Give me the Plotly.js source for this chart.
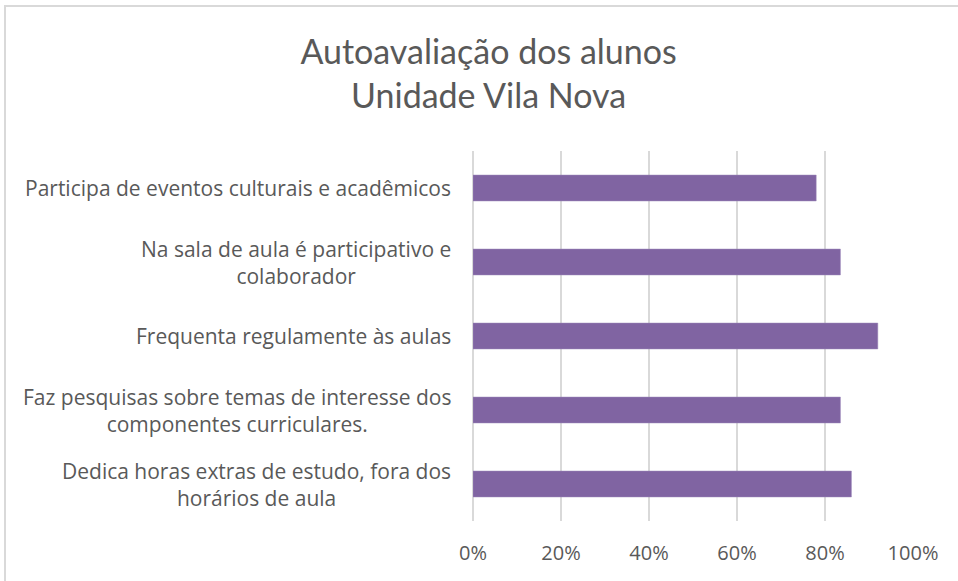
<!DOCTYPE html>
<html>
<head>
<meta charset="utf-8">
<script src="https://cdn.plot.ly/plotly-3.0.1.min.js"></script>
<style>
  html, body { margin: 0; padding: 0; background: #fff; }
  #wrap { position: relative; width: 958px; height: 581px; overflow: hidden; }
  #frame { position: absolute; left: 4px; top: 5px; width: 1000px; height: 700px;
           border-left: 2px solid #d9d9d9; border-top: 2px solid #d9d9d9; pointer-events: none; }
  #chart { position: absolute; left: 0; top: 0; width: 958px; height: 581px; }
</style>
</head>
<body>
<div id="wrap">
  <div id="chart"></div>
  <div id="frame"></div>
</div>
<script>
// Categories, top to bottom as shown in the chart
const categories = [
  "Participa de eventos culturais e acadêmicos",
  "Na sala de aula é participativo e<br>colaborador",
  "Frequenta regulamente às aulas",
  "Faz pesquisas sobre temas de interesse dos<br>componentes curriculares.",
  "Dedica horas extras de estudo, fora dos<br>horários de aula"
];
const values = [0.78, 0.835, 0.92, 0.835, 0.86];
const xTickVals = [0, 0.2, 0.4, 0.6, 0.8, 1.0];
const xTickText = ["0%", "20%", "40%", "60%", "80%", "100%"];
const titleText = "Autoavaliação dos alunos<br>Unidade Vila Nova";

const FONT = "'Open Sans', 'Liberation Sans', sans-serif";
const TFONT = "Lato, 'Open Sans', sans-serif";
const TXT = "#595959";

const trace = {
  type: "bar",
  orientation: "h",
  y: categories,
  x: values,
  marker: { color: "#8064A2", line: { color: "#9b86b8", width: 0.5 } },
  hoverinfo: "x+y"
};

const annotations = categories.map(c => ({
  xref: "paper", yref: "y",
  x: 0, y: c,
  xanchor: "right", yanchor: "middle",
  xshift: -20,
  text: c,
  align: "center",
  showarrow: false,
  font: { family: FONT, size: 21, color: TXT }
}));

const layout = {
  width: 958, height: 581,
  margin: { l: 473, r: 45, t: 151, b: 60, pad: 0 },
  paper_bgcolor: "#ffffff",
  plot_bgcolor: "#ffffff",
  showlegend: false,
  bargap: 0.65,
  title: {
    text: titleText,
    font: { family: TFONT, size: 34, color: TXT },
    xref: "container", x: 0.51, xanchor: "center",
    yref: "container", y: 1 - 64 / 581, yanchor: "top"
  },
  xaxis: {
    range: [0, 1],
    tickvals: xTickVals,
    ticktext: xTickText,
    showgrid: true,
    gridcolor: "#d9d9d9",
    gridwidth: 1.5,
    zeroline: true,
    zerolinecolor: "#d9d9d9",
    zerolinewidth: 1.5,
    showline: false,
    ticks: "",
    ticklabelstandoff: 18,
    tickfont: { family: FONT, size: 20, color: TXT },
    fixedrange: true
  },
  yaxis: {
    type: "category",
    autorange: "reversed",
    showticklabels: false,
    showgrid: false,
    zeroline: false,
    showline: false,
    ticks: "",
    fixedrange: true
  },
  annotations: annotations
};

Plotly.newPlot("chart", [trace], layout, { displayModeBar: false, staticPlot: true });
</script>
</body>
</html>
